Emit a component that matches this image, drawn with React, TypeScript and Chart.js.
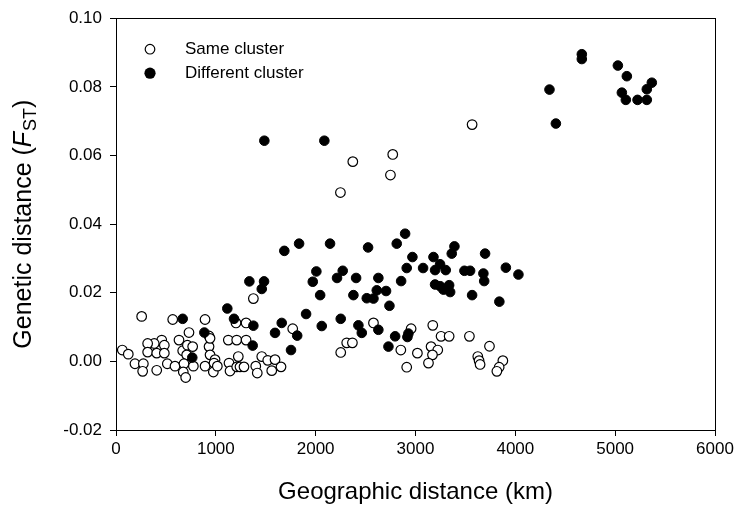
import React, { useEffect, useRef } from "react";
import { Chart, registerables } from "chart.js";

Chart.register(...registerables);

// Geographic distance (km), genetic distance (FST)
const sameCluster: [number, number][] = [
  [3567, 0.069], [2772, 0.0603], [2372, 0.0582], [2749, 0.0543], [2248, 0.0492], [1376, 0.0183],
  [257, 0.0131], [568, 0.0122], [892, 0.0122], [1202, 0.0112], [1303, 0.0112], [932, 0.0074],
  [731, 0.0084], [631, 0.0062], [458, 0.0062], [383, 0.0052], [317, 0.0052], [484, 0.0047],
  [317, 0.0027], [408, 0.0024], [484, 0.0024], [63, 0.0033], [123, 0.0021], [668, 0.0031],
  [715, 0.0047], [768, 0.0043], [708, 0.0019], [932, 0.0043], [942, 0.0019], [992, 0.0005],
  [942, 0.0067], [190, -0.0007], [274, -0.0007], [267, -0.0029], [408, -0.0026], [514, -0.0007],
  [591, -0.0014], [681, -0.0007], [674, -0.0031], [775, -0.0014], [698, -0.0047], [892, -0.0014],
  [982, -0.0005], [975, -0.0031], [1015, -0.0014], [1132, -0.0005], [1142, -0.0028], [1209, -0.0016],
  [1242, -0.0016], [1282, -0.0016], [1400, -0.0014], [1415, -0.0034], [1225, 0.0014], [1125, 0.0062],
  [1209, 0.0062], [1303, 0.0062], [1770, 0.0095], [1460, 0.0014], [1520, 0.0003], [1593, 0.0005],
  [1653, -0.0016], [1560, -0.0027],
  [2579, 0.0112], [2956, 0.0095], [3173, 0.0105], [3256, 0.0073], [3337, 0.0073], [3540, 0.0073],
  [3741, 0.0044], [2311, 0.0054], [2368, 0.0054], [2251, 0.0026], [2853, 0.0033], [3019, 0.0024],
  [3156, 0.0043], [3223, 0.0033], [3170, 0.0019], [3130, -0.0005], [2912, -0.0017], [3624, 0.0014],
  [3637, 0.0002], [3647, -0.0009], [3875, 0.0002], [3838, -0.0017], [3815, -0.0029],
];

const differentCluster: [number, number][] = [
  [4666, 0.0895], [4666, 0.0881], [5027, 0.0862], [5117, 0.0831], [4342, 0.0792], [5067, 0.0783],
  [5107, 0.0762], [5224, 0.0762], [5317, 0.0762], [5317, 0.0793], [5367, 0.0812], [4406, 0.0693],
  [1486, 0.0643], [2087, 0.0643],
  [1686, 0.0322], [1834, 0.0343], [1336, 0.0233], [1483, 0.0233], [1460, 0.0211], [1115, 0.0154],
  [2007, 0.0262], [1971, 0.0232], [2045, 0.0193], [2144, 0.0343], [2271, 0.0264], [2214, 0.0243],
  [2405, 0.0243], [2378, 0.0193], [1904, 0.0138],
  [2525, 0.0332], [2812, 0.0343], [2896, 0.0372], [3390, 0.0335], [3363, 0.0314], [3697, 0.0314],
  [3905, 0.0273], [4031, 0.0253], [2969, 0.0304], [2912, 0.0272], [3076, 0.0272], [3180, 0.0304],
  [3246, 0.0283], [3196, 0.0266], [3303, 0.0266], [3490, 0.0264], [3547, 0.0264], [3680, 0.0256],
  [3688, 0.0234], [2628, 0.0243], [2856, 0.0234], [3196, 0.0224], [3247, 0.0219], [3337, 0.0222],
  [3280, 0.0209], [3347, 0.0202], [3567, 0.0193], [2512, 0.0184], [2579, 0.0183], [2612, 0.0207],
  [2705, 0.0205], [2739, 0.0162], [3840, 0.0174],
  [2061, 0.0103], [2251, 0.0124], [2428, 0.0105], [2462, 0.0083], [2628, 0.0092], [2796, 0.0073],
  [2929, 0.0081], [2919, 0.0071], [2729, 0.0043],
  [668, 0.0124], [1182, 0.0124], [1376, 0.0104], [885, 0.0084], [764, 0.0011], [1369, 0.0046],
  [1593, 0.0083], [1660, 0.0112], [1815, 0.0075], [1753, 0.0033],
];

const xRange = [0, 6000];
const xStep = 1000;
const yRange = [-0.02, 0.1];
const yStep = 0.02;

const seriesNames = ["Same cluster", "Different cluster"];
const xTitle = "Geographic distance (km)";
const yTitleParts = ["Genetic distance (", "F", "ST", ")"];

const FONT = "'Liberation Sans', Arial, Helvetica, sans-serif";

const framePlugin = {
  id: "frameAndExtras",
  afterDraw(chart: any) {
    const { ctx, chartArea } = chart;
    ctx.save();
    ctx.strokeStyle = "#000";
    ctx.lineWidth = 1;
    ctx.strokeRect(
      Math.round(chartArea.left) + 0.5,
      Math.round(chartArea.top) + 0.5,
      Math.round(chartArea.right - chartArea.left),
      Math.round(chartArea.bottom - chartArea.top)
    );

    // legend
    const lx = chartArea.left + 34;
    const ly1 = chartArea.top + 31;
    const ly2 = chartArea.top + 55;
    ctx.beginPath();
    ctx.arc(lx, ly1, 4.8, 0, Math.PI * 2);
    ctx.fillStyle = "#fff";
    ctx.fill();
    ctx.lineWidth = 1.2;
    ctx.strokeStyle = "#000";
    ctx.stroke();
    ctx.beginPath();
    ctx.arc(lx, ly2, 5.6, 0, Math.PI * 2);
    ctx.fillStyle = "#000";
    ctx.fill();
    ctx.font = `17px ${FONT}`;
    ctx.fillStyle = "#000";
    ctx.textBaseline = "middle";
    ctx.textAlign = "left";
    ctx.fillText(seriesNames[0], lx + 35, ly1);
    ctx.fillText(seriesNames[1], lx + 35, ly2);

    // y title with italic F and subscript ST
    const big = 25;
    const small = 18;
    const f1 = `${big}px ${FONT}`;
    const fI = `italic ${big}px ${FONT}`;
    const fS = `${small}px ${FONT}`;
    ctx.font = f1;
    const w0 = ctx.measureText(yTitleParts[0]).width;
    const w3 = ctx.measureText(yTitleParts[3]).width;
    ctx.font = fI;
    const w1 = ctx.measureText(yTitleParts[1]).width;
    ctx.font = fS;
    const w2 = ctx.measureText(yTitleParts[2]).width;
    const total = w0 + w1 + w2 + w3 + 1;
    const cy = (chartArea.top + chartArea.bottom) / 2;
    ctx.translate(31, cy);
    ctx.rotate(-Math.PI / 2);
    ctx.textBaseline = "alphabetic";
    let x = -total / 2;
    ctx.font = f1;
    ctx.fillText(yTitleParts[0], x, 0);
    x += w0;
    ctx.font = fI;
    ctx.fillText(yTitleParts[1], x, 0);
    x += w1 + 1;
    ctx.font = fS;
    ctx.fillText(yTitleParts[2], x, 5);
    x += w2;
    ctx.font = f1;
    ctx.fillText(yTitleParts[3], x, 0);
    ctx.restore();
  },
};

export default function App() {
  const ref = useRef<HTMLCanvasElement | null>(null);

  useEffect(() => {
    if (!ref.current) return;
    const chart = new Chart(ref.current, {
      type: "scatter",
      data: {
        datasets: [
          {
            label: seriesNames[1],
            data: differentCluster.map(([x, y]) => ({ x, y })),
            backgroundColor: "#000",
            borderColor: "#000",
            borderWidth: 1,
            pointRadius: 4.8,
            order: 0,
          },
          {
            label: seriesNames[0],
            data: sameCluster.map(([x, y]) => ({ x, y })),
            backgroundColor: "#fff",
            borderColor: "#000",
            borderWidth: 1.2,
            pointRadius: 4.8,
            order: 1,
          },
        ],
      },
      options: {
        animation: false,
        responsive: false,
        events: [],
        layout: { padding: { top: 10, right: 23, left: 0, bottom: 0 } },
        plugins: {
          legend: { display: false },
          tooltip: { enabled: false },
        },
        scales: {
          x: {
            type: "linear",
            min: xRange[0],
            max: xRange[1],
            border: { display: true, color: "#000", width: 1 },
            grid: { display: true, drawOnChartArea: false, drawTicks: true, tickLength: 6, color: "#000" },
            ticks: {
              stepSize: xStep,
              color: "#000",
              padding: 3,
              maxRotation: 0,
              font: { family: FONT, size: 17 },
              callback: (v: any) => String(v),
            },
            title: {
              display: true,
              text: xTitle,
              color: "#000",
              font: { family: FONT, size: 24 },
              padding: { top: 0, bottom: 11 },
            },
            afterFit: (s: any) => {
              s.height = 88;
            },
          },
          y: {
            type: "linear",
            min: yRange[0],
            max: yRange[1],
            border: { display: true, color: "#000", width: 1 },
            grid: { display: true, drawOnChartArea: false, drawTicks: true, tickLength: 6, color: "#000" },
            ticks: {
              stepSize: yStep,
              color: "#000",
              padding: 8,
              font: { family: FONT, size: 17 },
              callback: (v: any) => (Math.abs(v) < 1e-9 ? "0.00" : Number(v).toFixed(2)),
            },
            afterFit: (s: any) => {
              s.width = 116;
            },
          },
        },
      },
      plugins: [framePlugin],
    });
    return () => chart.destroy();
  }, []);

  return (
    <div style={{ position: "absolute", left: 0, top: 0, width: 738, height: 518, background: "#fff" }}>
      <canvas ref={ref} width={738} height={518} style={{ display: "block" }} />
    </div>
  );
}
